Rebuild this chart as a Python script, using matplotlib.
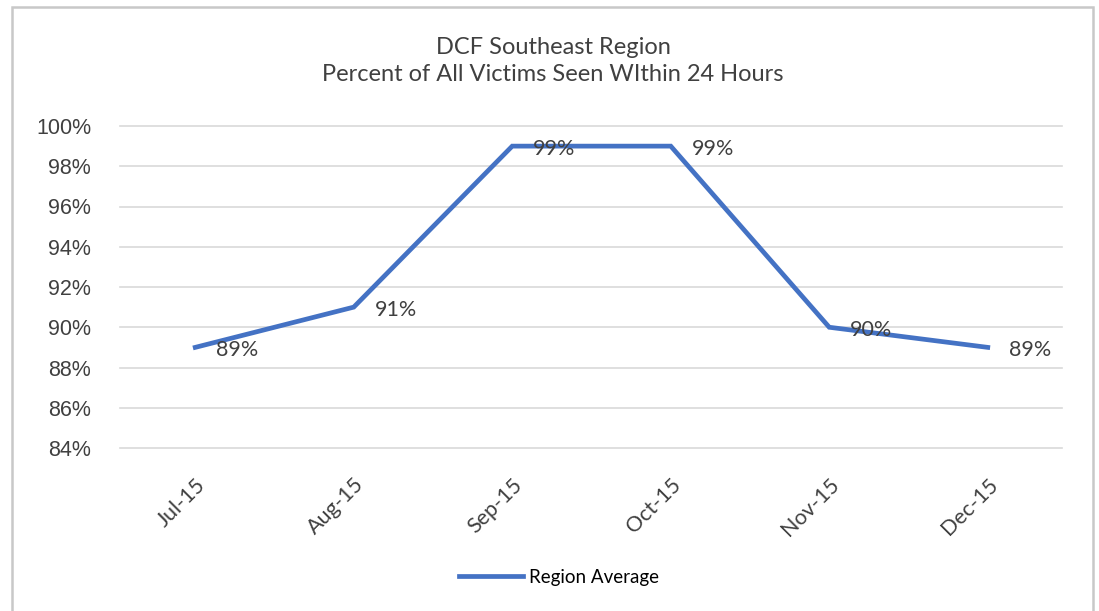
import matplotlib
matplotlib.use("Agg")
import matplotlib.pyplot as plt
from matplotlib.patches import Rectangle
from matplotlib.ticker import FuncFormatter

months = ["Jul-15", "Aug-15", "Sep-15", "Oct-15", "Nov-15", "Dec-15"]
region_average = [89, 91, 99, 99, 90, 89]
y_ticks = [84, 86, 88, 90, 92, 94, 96, 98, 100]
series_name = "Region Average"
title = "DCF Southeast Region\nPercent of All Victims Seen WIthin 24 Hours"

W, H = 1099, 611
fig = plt.figure(figsize=(W / 100, H / 100), dpi=100)
fig.patch.set_facecolor("white")
fig.add_artist(Rectangle((12 / W, -5 / H), (1093 - 12) / W, (611 - 7 + 5) / H,
                         transform=fig.transFigure, fill=False, edgecolor="#c8c8c8",
                         linewidth=1.8))

ax = fig.add_axes([116 / W, 1 - 448 / H, (1067 - 116) / W, (448 - 126) / H])
x = list(range(len(months)))
line, = ax.plot(x, region_average, color="#4472C4", linewidth=3.4, solid_joinstyle="miter",
                label=series_name, zorder=3)

for xi, v in zip(x, region_average):
    ax.annotate(f"{v}%", (xi, v), xytext=(15, -2), textcoords="offset points",
                ha="left", va="center", fontsize=15.5, color="#404040", family="Lato", zorder=4)

ax.set_xlim(-0.5, len(months) - 0.5)
ax.set_ylim(84, 100)
ax.set_yticks(y_ticks)
ax.yaxis.set_major_formatter(FuncFormatter(lambda v, p: f"{int(v)}%"))
ax.set_xticks(x)
ax.set_xticklabels(months, rotation=45, ha="right", rotation_mode="anchor",
                   fontsize=15.5, color="#404040", family="Lato")
for lab in ax.get_yticklabels():
    lab.set_fontsize(15.5)
    lab.set_color("#404040")
    lab.set_family("Liberation Sans")
ax.tick_params(axis="both", length=0)
ax.tick_params(axis="y", pad=18)
ax.tick_params(axis="x", pad=19)
for t in y_ticks:
    ax.axhline(t, xmin=4 / 951, xmax=946 / 951, color="#d9d9d9", linewidth=1.2,
               zorder=1, clip_on=False)
for s in ax.spines.values():
    s.set_visible(False)

fig.text(553 / W, 1 - 61 / H, title, ha="center", va="center", fontsize=17,
         color="#404040", family="Lato", linespacing=1.36)

fig.legend(handles=[line], labels=[series_name], loc="center", bbox_to_anchor=(559 / W, 1 - 577 / H),
           frameon=False, handlelength=3.4, handletextpad=0.3,
           prop={"family": "Lato", "size": 13.5})

fig.savefig("out.png", dpi=100, facecolor="white")
